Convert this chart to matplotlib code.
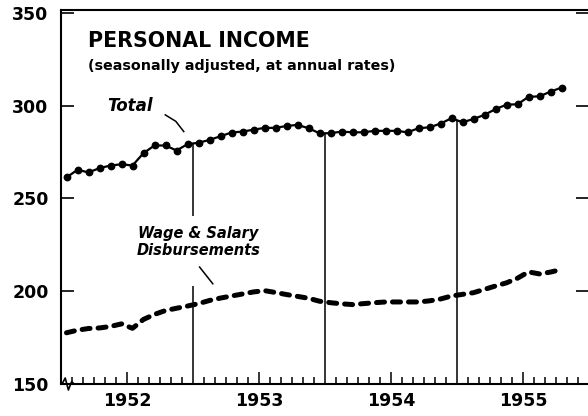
import numpy as np
import matplotlib
matplotlib.use("Agg")
import matplotlib.pyplot as plt

# monthly data, Jan 1952 - Oct 1955 (billions of dollars)
total = [261.3, 265.4, 264.0, 266.3, 267.7, 268.4, 267.7, 274.4, 278.5, 278.5, 275.8, 279.2,
         280.0, 281.5, 283.5, 285.5, 286.0, 287.0, 288.0, 288.0, 289.0, 289.6, 287.8, 285.1,
         285.1, 286.0, 285.6, 285.6, 286.4, 286.4, 286.4, 285.6, 287.8, 288.3, 290.3, 293.2,
         291.0, 292.8, 295.0, 298.1, 300.5, 300.7, 304.7, 305.0, 307.5, 309.7]
wages = [177.6, 179.0, 179.9, 180.2, 181.0, 182.4, 180.0, 184.8, 187.5, 189.6, 190.8, 192.0,
         193.3, 195.0, 196.3, 197.4, 198.5, 199.6, 200.3, 199.3, 198.2, 197.2, 196.2, 194.6,
         193.8, 193.2, 192.8, 193.3, 193.8, 194.2, 194.2, 194.2, 194.2, 194.8, 195.8, 197.4,
         198.3, 199.2, 201.0, 202.8, 204.5, 207.0, 210.4, 209.3, 210.3, 211.7]
years = [1952, 1953, 1954, 1955]
yticks = [150, 200, 250, 300, 350]

months = 1952 + (np.arange(len(total)) + 0.5) / 12

fig = plt.figure(figsize=(5.88, 4.16), dpi=100)
ax = fig.add_axes([61 / 588, 32 / 416, 528 / 588, 374 / 416])

ax.plot(months, total, color="black", lw=1.6, marker="o", ms=4.6, zorder=3)
ax.plot(months, wages, color="black", lw=3.6, dashes=(1.6, 1.6),
        dash_capstyle="round", solid_capstyle="round", zorder=3)

# year boundary lines from the axis up to the Total curve
for yr in years[1:]:
    top = np.interp(yr, months, total)
    if yr == 1953:
        # broken around the wage label
        ax.vlines(yr, 150, 203, color="black", lw=1.1, zorder=2)
        ax.vlines(yr, 240.5, top, color="black", lw=1.1, zorder=2)
    else:
        ax.vlines(yr, 150, top, color="black", lw=1.1, zorder=2)

ax.set_xlim(1952, 1956)
ax.set_ylim(150, 351.5)

ax.set_yticks(yticks)
ax.set_yticklabels([str(v) for v in yticks], fontsize=12.5, fontweight="bold")
ax.tick_params(axis="y", direction="in", length=9.5, width=1.2, pad=9,
               right=True, left=True)

mid = [y + 0.5 for y in years]
ax.set_xticks(mid)
ax.set_xticklabels([str(y) for y in years], fontsize=12.5, fontweight="bold")
minor = [y + k / 12 for y in years for k in range(1, 12) if k != 6]
ax.set_xticks(minor, minor=True)
ax.tick_params(axis="x", which="major", direction="in", length=9, width=1.1, pad=6)
ax.tick_params(axis="x", which="minor", direction="in", length=5, width=1.1)

for s in ["left", "top", "bottom"]:
    ax.spines[s].set_linewidth(1.5)
ax.spines["right"].set_visible(False)

# axis break mark
ax.plot([0.002, 0.008, 0.014, 0.020, 0.025], [0.0, 0.016, -0.016, 0.006, 0.0],
        transform=ax.transAxes, color="black", lw=1.2, clip_on=False, zorder=4)

ax.text(0.051, 0.918, "PERSONAL INCOME", transform=ax.transAxes,
        fontsize=14.8, fontweight="bold", va="center")
ax.text(0.051, 0.85, "(seasonally adjusted, at annual rates)", transform=ax.transAxes,
        fontsize=10.3, fontweight="bold", va="center")

ax.text(1952.52, 300, "Total", fontsize=12, fontweight="bold", style="italic",
        ha="center", va="center")
ax.plot([1952.79, 1952.87, 1952.93], [295, 291.5, 286], color="black", lw=1.1)

ax.text(1953.04, 226.5, "Wage & Salary\nDisbursements", fontsize=10.5, fontweight="bold",
        style="italic", ha="center", va="center", linespacing=1.1)
ax.plot([1953.05, 1953.10, 1953.15], [213, 208.5, 204], color="black", lw=1.1)

fig.savefig("out.png", dpi=100)
